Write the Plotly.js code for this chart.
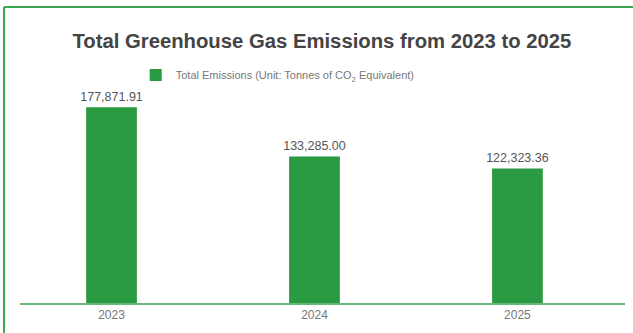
<!DOCTYPE html>
<html>
<head>
<meta charset="utf-8">
<script src="https://cdn.plot.ly/plotly-3.0.1.min.js"></script>
<style>
html,body{margin:0;padding:0;background:#fff;}
#chart{width:633px;height:333px;}
</style>
</head>
<body>
<div id="chart"></div>
<script>
const years = ["2023", "2024", "2025"];
const emissions = [177871.91, 133285.00, 122323.36];
const emissionLabels = ["177,871.91", "133,285.00", "122,323.36"];
const seriesName = "Total Emissions (Unit: Tonnes of CO<sub>2</sub> Equivalent)";
const chartTitle = "Total Greenhouse Gas Emissions from 2023 to 2025";

const FONT = "Liberation Sans, Arial, Helvetica, sans-serif";

const trace = {
  type: "bar",
  x: years,
  y: emissions,
  name: seriesName,
  text: emissionLabels,
  textposition: "outside",
  constraintext: "none",
  textfont: {family: FONT, size: 12.5, color: "#555555"},
  cliponaxis: false,
  marker: {color: "#2a9a43"},
  width: 0.25,
  hoverinfo: "x+y"
};

const layout = {
  width: 633,
  height: 333,
  margin: {l: 20, r: 8, t: 61, b: 30, pad: 0},
  paper_bgcolor: "#ffffff",
  plot_bgcolor: "#ffffff",
  font: {family: FONT, color: "#555555"},
  showlegend: true,
  title: {
    text: chartTitle,
    font: {family: FONT, size: 20.3, color: "#444444", weight: "bold"},
    x: 0.499, xref: "paper", xanchor: "center",
    y: 0.877, yref: "container", yanchor: "middle"
  },
  legend: {
    orientation: "h",
    x: 0.426, xanchor: "center",
    y: 0.942, yanchor: "middle",
    font: {family: FONT, size: 11, color: "#777777"},
    bgcolor: "rgba(0,0,0,0)"
  },
  xaxis: {
    type: "category",
    range: [-0.451, 2.53],
    showline: true,
    linecolor: "#6ab77a",
    linewidth: 2,
    showgrid: false,
    zeroline: false,
    ticks: "",
    tickfont: {family: FONT, size: 12, color: "#777777"},
    fixedrange: true
  },
  yaxis: {
    range: [0, 220000],
    visible: false,
    showgrid: false,
    zeroline: false,
    fixedrange: true
  },
  shapes: [
    {type: "line", xref: "paper", yref: "paper", x0: -0.0264, x1: 1.02, y0: 1.223, y1: 1.223,
     line: {color: "#3ca650", width: 2}},
    {type: "line", xref: "paper", yref: "paper", x0: -0.0264, x1: -0.0264, y0: -0.2, y1: 1.223,
     line: {color: "#3ca650", width: 2}}
  ]
};

Plotly.newPlot("chart", [trace], layout, {displayModeBar: false, staticPlot: true});
</script>
</body>
</html>
